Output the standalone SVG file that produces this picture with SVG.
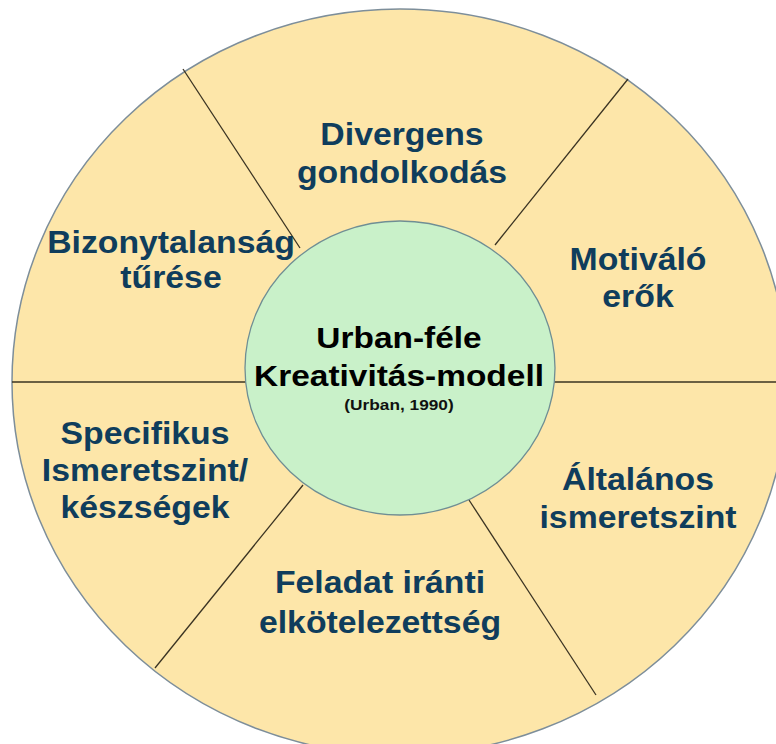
<svg xmlns="http://www.w3.org/2000/svg" width="776" height="744" viewBox="0 0 776 744">
<style>
.lbl{font-family:"Liberation Sans",Arial,sans-serif;font-weight:bold;font-size:31px;fill:#0f3d5c;text-anchor:middle}
.ctr{font-family:"Liberation Sans",Arial,sans-serif;font-weight:bold;font-size:30px;fill:#000;text-anchor:middle}
.sub{font-family:"Liberation Sans",Arial,sans-serif;font-weight:bold;font-size:15.5px;fill:#111;text-anchor:middle}
.div{stroke:#3a3322;stroke-width:1.3}
</style>
<rect width="776" height="744" fill="#fff"/>
<g id="ring">
<ellipse cx="400" cy="382" rx="388" ry="373" fill="#fde6a9" stroke="#7d8e9a" stroke-width="1.5"/>
</g>
<g id="connectors">
<line class="div" x1="183" y1="69" x2="300" y2="248"/>
<line class="div" x1="628" y1="79" x2="495" y2="245"/>
<line class="div" x1="12" y1="382" x2="246" y2="382"/>
<line class="div" x1="554" y1="382" x2="776" y2="382"/>
<line class="div" x1="155" y1="668" x2="303" y2="485"/>
<line class="div" x1="596" y1="695" x2="469" y2="500"/>
</g>
<g id="center">
<ellipse cx="400" cy="368" rx="155" ry="147" fill="#c9f1c9" stroke="#6f8e94" stroke-width="1.3"/>
<g transform="translate(399,0) scale(1.115,1)">
<text class="ctr" x="0" y="348">Urban-féle</text>
<text class="ctr" x="0" y="386">Kreativitás-modell</text>
<text class="sub" x="0" y="410">(Urban, 1990)</text>
</g>
</g>
<g id="divergens" transform="translate(402,0) scale(1.09,1)">
<text class="lbl" x="0" y="145">Divergens</text>
<text class="lbl" x="0" y="183">gondolkodás</text>
</g>
<g id="motivalo" transform="translate(638,0) scale(1.09,1)">
<text class="lbl" x="0" y="270">Motiváló</text>
<text class="lbl" x="0" y="307">erők</text>
</g>
<g id="altalanos" transform="translate(638,0) scale(1.09,1)">
<text class="lbl" x="0" y="490">Általános</text>
<text class="lbl" x="0" y="528">ismeretszint</text>
</g>
<g id="feladat" transform="translate(380,0) scale(1.09,1)">
<text class="lbl" x="0" y="593">Feladat iránti</text>
<text class="lbl" x="0" y="633">elkötelezettség</text>
</g>
<g id="specifikus" transform="translate(145,0) scale(1.09,1)">
<text class="lbl" x="0" y="444">Specifikus</text>
<text class="lbl" x="0" y="481">Ismeretszint/</text>
<text class="lbl" x="0" y="518">készségek</text>
</g>
<g id="bizonytalansag" transform="translate(171,0) scale(1.09,1)">
<text class="lbl" x="0" y="253">Bizonytalanság</text>
<text class="lbl" x="0" y="288">tűrése</text>
</g>
</svg>
